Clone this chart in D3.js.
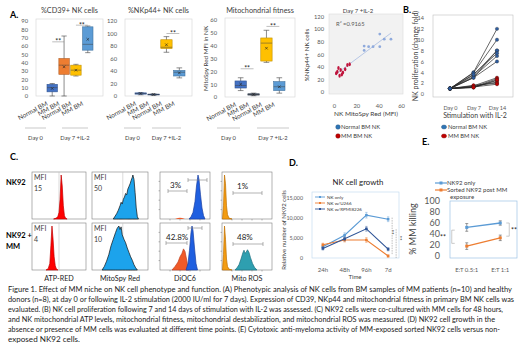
<!DOCTYPE html>
<html><head><meta charset="utf-8">
<script src="https://cdn.jsdelivr.net/npm/d3@7"></script>
<style>body{margin:0;background:#fff} svg{display:block} text{font-family:Lato,"Open Sans",sans-serif}</style>
</head><body><svg id="c" width="520" height="346"></svg>
<script>
// ---------------- DATA ----------------
const boxCategories = ["Normal BM","MM BM","Normal BM","MM BM"];
const dayGroups = ["Day 0","Day 7 +IL-2"];
// [min, q1, median, q3, max, mean]
const cd39Stats  = [[0,5,10,14,15,9],[0,26,37,45,72,35],[24,25,31,37,38,31],[52,55,62,83,84,68]];
const nkp44Stats = [[2,3,4,5,5.5,4],[1,2,2.5,3,3.5,2.5],[70,76,78,90,95,82],[29,32,38,41,45,37]];
const mitoStats  = [[5,7,9,12.5,15,10],[1,1.5,2,2.5,3,2],[27,28,42,46,52,38],[3,5,8,12,15,8]];
const cd39Sig  = [[0,1,65],[2,3,85]];
const nkp44Sig = [[2,3,100]];
const mitoSig  = [[0,1,22],[2,3,55]];

const scatterNormal = [[27,73],[27,66],[31,72],[35,72],[41,72],[41,92],[45,84],[51,84]];
const scatterMM = [[2,30],[3,32],[4,38],[5,26],[6,35],[7,28],[8,31],[10,36],[12,43],[14,44]];
const scatterR2 = "R\u00b2 =0.9165";

const prolifDays = ["Day 0","Day 7","Day 14"];
const prolifNormal = [[1,4,12],[1,3.9,10],[1,3.5,8],[1,3,8],[1,3.2,7],[1,3,6],[1,3.6,7.5]];
const prolifMM = [[1,1.5,3],[1,1.3,2.8],[1,1.2,2.5],[1,1.4,2.2],[1,1.6,2],[1,1.3,1.8],[1,1.2,2.6]];

// histograms: [channel (0-100), relative count (0-100)]
const atpCtrl   = [[40,0],[45,2],[48,6],[50,15],[52,45],[54,100],[56,75],[58,30],[60,8],[62,2],[65,0]];
const atpMM     = [[26,0],[30,3],[33,15],[35,55],[37,100],[39,70],[41,30],[43,10],[45,3],[48,0]];
const mitoCtrl  = [[38,0],[41,6],[44,12],[47,20],[50,30],[52,38],[54,34],[56,45],[58,50],[60,58],[62,55],[64,68],[66,74],[68,80],[70,88],[72,95],[73,100],[75,90],[77,60],[79,25],[81,5],[83,0]];
const mitoMM    = [[18,0],[22,8],[26,20],[30,35],[34,55],[38,70],[42,85],[45,95],[48,100],[50,92],[52,98],[54,80],[57,70],[60,62],[63,50],[66,40],[69,30],[72,22],[75,12],[78,5],[81,0]];
const dioCtrlLow  = [[30,0],[36,2],[40,3],[44,2],[50,0]];
const dioCtrlHigh = [[58,0],[62,5],[66,15],[70,40],[73,75],[76,100],[78,90],[81,55],[84,25],[87,8],[90,0]];
const dioMMLow  = [[24,0],[30,8],[36,18],[40,30],[44,38],[47,48],[50,42],[53,25],[56,5],[58,0]];
const dioMMHigh = [[52,0],[56,15],[59,45],[62,85],[64,100],[66,90],[69,50],[72,15],[75,0]];
const rosCtrl   = [[1,0],[3,30],[5,100],[7,80],[9,30],[11,10],[14,2],[20,0]];
const rosMM     = [[1,0],[3,35],[5,100],[7,70],[9,25],[11,8],[14,2],[20,0]];
const rosMMHigh = [[26,0],[30,5],[34,12],[38,25],[42,40],[44,45],[46,38],[48,40],[51,46],[54,40],[57,28],[61,15],[65,6],[70,0]];
const mfiCtrl = ["15","50"];
const mfiMM = ["4","10"];
const pctCtrl = ["3%","1%"];
const pctMM = ["42.8%","48%"];

const growthTimes = ["24h","48h","96h","7d"];
const growthNames = ["NK only","NK w/U266","NK w/RPMI8226"];
const growthNKonly = [2800,5700,10700,9700];
const growthU266   = [3300,4500,4500,500];
const growthRPMI   = [2400,4800,7300,2200];
const growthErr    = [[500,600,700,600],[400,500,600,300],[400,500,600,400]];

const killingRatios = ["E:T 0.5:1","E:T 1:1"];
const killingNames = ["NK92 only","Sorted NK92 post MM exposure"];
const killingNK92   = [52,60];
const killingSorted = [18,33];
const killingErr    = [[7,4],[6,5]];

const caption = [
 "Figure 1. Effect of MM niche on NK cell phenotype and function. (A) Phenotypic analysis of NK cells from BM samples of MM patients (n=10) and healthy",
 "donors (n=8), at day 0 or following IL-2 stimulation (2000 IU/ml for 7 days). Expression of CD39, NKp44 and mitochondrial fitness in primary BM NK cells was",
 "evaluated. (B) NK cell proliferation following 7 and 14 days of stimulation with IL-2 was assessed. (C) NK92 cells were co-cultured with MM cells for 48 hours,",
 "and NK mitochondrial ATP levels, mitochondrial fitness, mitochondrial destabilization, and mitochondrial ROS was measured. (D) NK92 cell growth in the",
 "absence or presence of MM cells was evaluated at different time points. (E) Cytotoxic anti-myeloma activity of MM-exposed sorted NK92 cells versus non-",
 "exposed NK92 cells."
];

// ---------------- DRAWING ----------------
const svg = d3.select("#c");
const GT = "#595959";
function txt(g,x,y,s,o={}){
  const t=g.append("text").attr("x",x).attr("y",y).text(s)
    .attr("font-size",o.size||6).attr("fill",o.fill||"#000").attr("text-anchor",o.anchor||"start");
  if(o.weight) t.attr("font-weight",o.weight);
  if(o.rotate!=null) t.attr("transform",`rotate(${o.rotate},${x},${y})`);
  if(o.len) t.attr("textLength",o.len).attr("lengthAdjust","spacingAndGlyphs");
  return t;
}
function styleAxis(a,size){a.select(".domain").remove();a.selectAll("line").remove();a.selectAll("text").attr("font-size",size).attr("fill",GT).attr("font-family","Lato,'Open Sans',sans-serif");}

// Panel letters
txt(svg,10,18,"A.",{size:9,weight:"bold"});
txt(svg,403,13,"B.",{size:9,weight:"bold"});
txt(svg,10,160,"C.",{size:9,weight:"bold"});
txt(svg,289,166,"D.",{size:9,weight:"bold"});
txt(svg,422,145,"E.",{size:9,weight:"bold"});

// ---- A: box plots ----
function boxChart(c){
  const g=svg.append("g");
  const y=d3.scaleLinear().domain([0,c.max]).range([c.y0,c.y1]);
  const x=d3.scaleBand().domain(d3.range(4)).range([c.bx0,c.bx1]).paddingInner(0.12);
  g.append("rect").attr("x",c.px0).attr("y",c.y1-2).attr("width",c.px1-c.px0).attr("height",c.y0-c.y1+2)
    .attr("fill","none").attr("stroke","#d9d9d9").attr("stroke-width",0.7);
  g.append("g").attr("transform",`translate(${c.px0},0)`)
    .call(d3.axisLeft(y).tickValues(d3.range(0,c.max+1e-6,c.step)).tickPadding(2)).call(a=>styleAxis(a,5.8));
  txt(g,(c.px0+c.px1)/2,13,c.title,{size:7.3,anchor:"middle",fill:"#404040"});
  if(c.ylabel) txt(g,c.px0-17,(c.y0+c.y1)/2,c.ylabel,{size:6.3,anchor:"middle",rotate:-90,fill:"#404040"});
  c.stats.forEach((s,i)=>{
    const cx=x(i)+x.bandwidth()/2, w=x.bandwidth();
    g.append("line").attr("x1",cx).attr("x2",cx).attr("y1",y(s[0])).attr("y2",y(s[4])).attr("stroke","#404040").attr("stroke-width",0.6);
    [s[0],s[4]].forEach(v=>g.append("line").attr("x1",cx-w*0.25).attr("x2",cx+w*0.25).attr("y1",y(v)).attr("y2",y(v)).attr("stroke","#404040").attr("stroke-width",0.6));
    g.append("rect").attr("x",x(i)).attr("y",y(s[3])).attr("width",w).attr("height",Math.max(0.8,y(s[1])-y(s[3])))
      .attr("fill",c.colors[i]).attr("stroke",d3.color(c.colors[i]).darker(0.8)).attr("stroke-width",0.6);
    g.append("line").attr("x1",x(i)).attr("x2",x(i)+w).attr("y1",y(s[2])).attr("y2",y(s[2])).attr("stroke","#404040").attr("stroke-width",0.5);
    const my=y(s[5]);
    g.append("path").attr("d",`M${cx-1.3},${my-1.3}L${cx+1.3},${my+1.3}M${cx-1.3},${my+1.3}L${cx+1.3},${my-1.3}`).attr("stroke","#222").attr("stroke-width",0.6);
    txt(g,cx-4,c.y0+9,boxCategories[i],{size:6.4,anchor:"end",rotate:-28,fill:"#404040"});
  });
  c.sig.forEach(([a,b,v])=>{
    const xa=x(a)+x.bandwidth()/2, xb=x(b)+x.bandwidth()/2;
    g.append("line").attr("x1",xa).attr("x2",xb).attr("y1",y(v)).attr("y2",y(v)).attr("stroke","#7f7f7f").attr("stroke-width",0.5);
    txt(g,(xa+xb)/2,y(v)+2.5,"**",{size:7,anchor:"middle",fill:"#222"});
  });
  c.groups.forEach((gr,i)=>{
    g.append("line").attr("x1",gr[0]).attr("x2",gr[1]).attr("y1",128).attr("y2",128).attr("stroke","#a6a6a6").attr("stroke-width",0.6);
    txt(g,(gr[0]+gr[1])/2,140,dayGroups[i],{size:5.8,anchor:"middle",fill:"#404040"});
  });
}
boxChart({px0:36,px1:103,y0:96,y1:21,bx0:47,bx1:93,max:90,step:10,title:"%CD39+ NK cells",stats:cd39Stats,
  colors:["#4472c4","#ed7d31","#ffc000","#5b9bd5"],sig:cd39Sig,groups:[[25,46],[62,88]]});
boxChart({px0:125,px1:192,y0:96,y1:21,bx0:135,bx1:185,max:120,step:20,title:"%NKp44+ NK cells",stats:nkp44Stats,
  colors:["#4472c4","#2f5597","#ffc000","#5b9bd5"],sig:nkp44Sig,groups:[[124,141],[152,181]]});
boxChart({px0:225,px1:295,y0:97,y1:20,bx0:235,bx1:285,max:60,step:10,title:"Mitochondrial fitness",stats:mitoStats,
  colors:["#4472c4","#44546a","#ffc000","#5b9bd5"],sig:mitoSig,groups:[[217,240],[257,289]],ylabel:"MitoSpy Red MFI in NK"});

// ---- A: scatter ----
(function(){
  const g=svg.append("g");
  const x=d3.scaleLinear().domain([0,60]).range([334,401]);
  const y=d3.scaleLinear().domain([0,120]).range([92,16.5]);
  g.append("rect").attr("x",329).attr("y",14).attr("width",74).attr("height",80).attr("fill","#f2f2f2").attr("stroke","#d9d9d9").attr("stroke-width",0.6);
  g.append("g").attr("transform","translate(331,0)").call(d3.axisLeft(y).tickValues(d3.range(0,121,20)).tickPadding(1)).call(a=>styleAxis(a,5.8));
  g.append("g").attr("transform","translate(0,96)").call(d3.axisBottom(x).tickValues([0,20,40,60]).tickPadding(2)).call(a=>styleAxis(a,5.8));
  txt(g,358,13,"Day 7 +IL-2",{size:6,anchor:"middle",fill:"#404040"});
  txt(g,309,55,"%NKp44+ NK cells",{size:6.3,anchor:"middle",rotate:-90,fill:"#404040"});
  txt(g,366,116,"NK MitoSpy Red (MFI)",{size:6.5,anchor:"middle",fill:"#404040"});
  const all=scatterNormal.concat(scatterMM);
  const mx=d3.mean(all,d=>d[0]), my=d3.mean(all,d=>d[1]);
  const b=d3.sum(all,d=>(d[0]-mx)*(d[1]-my))/d3.sum(all,d=>(d[0]-mx)**2), a=my-b*mx;
  g.append("line").attr("x1",x(1)).attr("x2",x(51)).attr("y1",y(a+b*1)).attr("y2",y(a+b*51)).attr("stroke","#8faadc").attr("stroke-width",0.6);
  txt(g,336,26,scatterR2,{size:5.8,fill:GT});
  g.selectAll(".n").data(scatterNormal).join("circle").attr("cx",d=>x(d[0])).attr("cy",d=>y(d[1])).attr("r",1.4).attr("fill","#8faadc");
  g.selectAll(".m").data(scatterMM).join("ellipse").attr("cx",d=>x(d[0])).attr("cy",d=>y(d[1])).attr("rx",1.2).attr("ry",2).attr("fill","#c0143c");
  g.append("circle").attr("cx",338).attr("cy",127).attr("r",2.3).attr("fill","#2e75b6").attr("stroke","#1f4e79").attr("stroke-width",0.4);
  g.append("circle").attr("cx",338).attr("cy",136).attr("r",2.3).attr("fill","#c00000").attr("stroke","#7f0000").attr("stroke-width",0.4);
  txt(g,341,129,"Normal BM NK",{size:5.8,fill:"#404040"});
  txt(g,341,138,"MM BM NK",{size:5.8,fill:"#404040"});
})();

// ---- B ----
(function(){
  const g=svg.append("g");
  const x=d3.scalePoint().domain(prolifDays).range([450,497]);
  const y=d3.scaleLinear().domain([0,14]).range([94,18]);
  g.append("rect").attr("x",433).attr("y",15).attr("width",80).attr("height",82).attr("fill","none").attr("stroke","#bfbfbf").attr("stroke-width",0.6);
  g.append("g").attr("transform","translate(431,0)").call(d3.axisLeft(y).tickValues(d3.range(0,15,2)).tickPadding(1)).call(a=>styleAxis(a,5.5));
  g.append("g").attr("transform","translate(0,98)").call(d3.axisBottom(x).tickPadding(2)).call(a=>styleAxis(a,5.5));
  txt(g,418,56,"NK proliferation (change fold)",{size:7,anchor:"middle",rotate:-90,fill:"#404040"});
  txt(g,475,118,"Stimulation with IL-2",{size:7,anchor:"middle",fill:"#404040"});
  const line=d3.line().x((d,i)=>x(prolifDays[i])).y(d=>y(d));
  [[prolifMM,"#c00000"],[prolifNormal,"#2e5d9f"]].forEach(([set,col])=>{
    set.forEach(s=>{
      g.append("path").attr("d",line(s)).attr("fill","none").attr("stroke","#262626").attr("stroke-width",0.7);
      s.forEach((v,i)=>g.append("circle").attr("cx",x(prolifDays[i])).attr("cy",y(v)).attr("r",1.7).attr("fill",col).attr("stroke","#222").attr("stroke-width",0.3));
    });
  });
  g.append("ellipse").attr("cx",444).attr("cy",127).attr("rx",2.6).attr("ry",2).attr("fill","#2e75b6").attr("stroke","#1f4e79").attr("stroke-width",0.4);
  g.append("ellipse").attr("cx",444).attr("cy",136).attr("rx",2.6).attr("ry",2).attr("fill","#c00000").attr("stroke","#7f0000").attr("stroke-width",0.4);
  txt(g,448,129,"Normal BM NK",{size:5.8,fill:"#404040"});
  txt(g,448,138,"MM BM NK",{size:5.8,fill:"#404040"});
})();

// ---- C: flow histograms ----
const rows=[[172,219],[223,270]];
const cols=[[32,86],[92,148],[160,210],[222,272]];
function hist(g,col,row,data,fill,stroke){
  const x=d3.scaleLinear().domain([0,100]).range(col);
  const y=d3.scaleLinear().domain([0,100]).range([row[1],row[0]+3]);
  const area=d3.area().x(d=>x(d[0])).y0(row[1]).y1(d=>y(d[1])).curve(d3.curveLinear);
  g.append("path").attr("d",area(data)).attr("fill",fill).attr("stroke",stroke||"none").attr("stroke-width",0.7);
}
(function(){
  const g=svg.append("g");
  txt(g,6,185,"NK92",{size:7.5,weight:"bold"});
  txt(g,6,238,"NK92 +",{size:7.5,weight:"bold"});
  txt(g,6,249,"MM",{size:7.5,weight:"bold"});
  rows.forEach((r,ri)=>cols.forEach(c=>{
    g.append("rect").attr("x",c[0]).attr("y",r[0]).attr("width",c[1]-c[0]).attr("height",r[1]-r[0]).attr("fill","#fff").attr("stroke","#7f7f7f").attr("stroke-width",0.6);
  }));
  const xa=d3.scaleLinear().domain([0,100]).range(cols[0]);
  const xm=d3.scaleLinear().domain([0,100]).range(cols[1]);
  rows.forEach(r=>{
    g.append("line").attr("x1",xa(50)).attr("x2",xa(50)).attr("y1",r[0]).attr("y2",r[1]).attr("stroke","#bfbfbf").attr("stroke-width",0.6);
    g.append("line").attr("x1",xm(55)).attr("x2",xm(55)).attr("y1",r[0]).attr("y2",r[1]).attr("stroke","#bfbfbf").attr("stroke-width",0.6);
  });
  hist(g,cols[0],rows[0],atpCtrl,"#ff0000","#c00000");
  hist(g,cols[0],rows[1],atpMM,"#ff0000","#c00000");
  hist(g,cols[1],rows[0],mitoCtrl,"#1ca3ec","#111");
  hist(g,cols[1],rows[1],mitoMM,"#1ca3ec","#111");
  hist(g,cols[2],rows[0],dioCtrlLow,"#f05a28");
  hist(g,cols[2],rows[0],dioCtrlHigh,"#1f5fe0","#1a3fa0");
  hist(g,cols[2],rows[1],dioMMLow,"#f05a28","#c04020");
  hist(g,cols[2],rows[1],dioMMHigh,"#1f5fe0","#1a3fa0");
  hist(g,cols[3],rows[0],rosCtrl,"#f39c12","#c07000");
  hist(g,cols[3],rows[1],rosMMHigh,"#2e9fb0","#1e7080");
  hist(g,cols[3],rows[1],rosMM,"#f39c12","#c07000");
  [mfiCtrl,mfiMM].forEach((m,ri)=>{
    [0,1].forEach(ci=>{
      txt(g,cols[ci][0]+2,rows[ri][0]+8,"MFI",{size:7,fill:"#404040"});
      txt(g,cols[ci][0]+2,rows[ri][0]+19,m[ci],{size:7,fill:"#404040"});
    });
  });
  const xd=d3.scaleLinear().domain([0,100]).range(cols[2]);
  const xr=d3.scaleLinear().domain([0,100]).range(cols[3]);
  function gate(x1,x2,yv){
    g.append("line").attr("x1",x1).attr("x2",x2).attr("y1",yv).attr("y2",yv).attr("stroke","#7f7f7f").attr("stroke-width",0.6);
    [x1,x2].forEach(xx=>g.append("line").attr("x1",xx).attr("x2",xx).attr("y1",yv-2).attr("y2",yv+2).attr("stroke","#7f7f7f").attr("stroke-width",0.6));
  }
  gate(xd(16),xd(54),191); gate(xd(56),xd(94),180);
  gate(xd(12),xd(54),243); gate(xd(56),xd(84),228);
  gate(xr(22),xr(80),193); gate(xr(22),xr(82),244);
  txt(g,xd(20),188,pctCtrl[0],{size:8,fill:"#222"});
  txt(g,xr(30),189,pctCtrl[1],{size:8,fill:"#222"});
  txt(g,xd(12),240,pctMM[0],{size:8,fill:"#222"});
  txt(g,xr(30),240,pctMM[1],{size:8,fill:"#222"});
  [2,3].forEach(ci=>rows.forEach(r=>{
    for(let k=1;k<5;k++){
      const yy=r[1]-(r[1]-r[0])*k/5;
      g.append("line").attr("x1",cols[ci][0]-1.5).attr("x2",cols[ci][0]).attr("y1",yy).attr("y2",yy).attr("stroke","#555").attr("stroke-width",0.4);
      const xx=cols[ci][0]+(cols[ci][1]-cols[ci][0])*k/5;
      g.append("line").attr("x1",xx).attr("x2",xx).attr("y1",r[1]).attr("y2",r[1]+1.5).attr("stroke","#555").attr("stroke-width",0.4);
    }
  }));
  ["ATP-RED","MitoSpy Red","DiOC6","Mito ROS"].forEach((l,i)=>txt(g,(cols[i][0]+cols[i][1])/2,281,l,{size:7.2,anchor:"middle",fill:"#222"}));
})();

// ---- D ----
(function(){
  const g=svg.append("g");
  const x=d3.scaleBand().domain(growthTimes).range([312,399]);
  const y=d3.scaleLinear().domain([0,15000]).range([258,198]);
  g.append("rect").attr("x",312).attr("y",192).attr("width",87).attr("height",66).attr("fill","none").attr("stroke","#bdd7ee").attr("stroke-width",0.6);
  g.append("g").attr("transform","translate(310,0)").call(d3.axisLeft(y).tickValues([0,5000,10000,15000]).tickPadding(1)).call(a=>styleAxis(a,5.3));
  g.append("g").attr("transform","translate(0,260)").call(d3.axisBottom(x).tickPadding(2)).call(a=>styleAxis(a,6));
  txt(g,358,185,"NK cell growth",{size:7.8,anchor:"middle",fill:"#222"});
  txt(g,355,279,"Time",{size:6,anchor:"middle",fill:"#404040"});
  txt(g,286,230,"Relative number of NK92 cells",{size:6,anchor:"middle",rotate:-90,fill:"#404040"});
  const series=[growthNKonly,growthU266,growthRPMI], colors=["#5b9bd5","#ed7d31","#2f5597"];
  const cx=t=>x(t)+x.bandwidth()/2;
  series.forEach((s,si)=>{
    g.append("path").attr("d",d3.line().x((d,i)=>cx(growthTimes[i])).y(d=>y(d))(s)).attr("fill","none").attr("stroke",colors[si]).attr("stroke-width",1.1);
    s.forEach((v,i)=>{
      const e=growthErr[si][i], X=cx(growthTimes[i]);
      g.append("path").attr("d",`M${X},${y(v-e)}V${y(v+e)}M${X-1.2},${y(v-e)}H${X+1.2}M${X-1.2},${y(v+e)}H${X+1.2}`).attr("stroke",colors[si]).attr("stroke-width",0.5).attr("opacity",0.8);
      g.append("rect").attr("x",X-1.3).attr("y",y(v)-1.3).attr("width",2.6).attr("height",2.6).attr("fill",colors[si]);
    });
  });
  growthNames.forEach((n,i)=>{
    const yy=197+i*6;
    g.append("line").attr("x1",315).attr("x2",325).attr("y1",yy).attr("y2",yy).attr("stroke",colors[i]).attr("stroke-width",0.9);
    g.append("rect").attr("x",319).attr("y",yy-1).attr("width",2).attr("height",2).attr("fill",colors[i]);
    txt(g,327,yy+1.6,n,{size:4.6,fill:"#404040"});
  });
  const X7=cx("7d");
  g.append("line").attr("x1",X7+4).attr("x2",X7+4).attr("y1",y(growthNKonly[3]+400)).attr("y2",y(growthU266[3]+400)).attr("stroke","#7f7f7f").attr("stroke-width",0.5).attr("stroke-dasharray","1.5,1");
  g.append("line").attr("x1",X7+8).attr("x2",X7+8).attr("y1",y(growthRPMI[3]+5000)).attr("y2",y(0)).attr("stroke","#7f7f7f").attr("stroke-width",0.5).attr("stroke-dasharray","1.5,1");
  txt(g,X7+2,232,"**",{size:6,anchor:"middle",rotate:90,fill:"#222"});
  txt(g,X7+10,238,"**",{size:6,anchor:"middle",rotate:90,fill:"#222"});
})();

// ---- E ----
(function(){
  const g=svg.append("g");
  const x=d3.scaleBand().domain(killingRatios).range([450,517]);
  const y=d3.scaleLinear().domain([0,100]).range([256,201]);
  g.append("rect").attr("x",450).attr("y",201).attr("width",67).attr("height",57).attr("fill","none").attr("stroke","#9dc3e6").attr("stroke-width",0.7);
  g.append("g").attr("transform","translate(447,0)").call(d3.axisLeft(y).tickValues(d3.range(0,101,20)).tickPadding(1)).call(a=>styleAxis(a,9));
  g.append("g").attr("transform","translate(0,260)").call(d3.axisBottom(x).tickPadding(2)).call(a=>styleAxis(a,6));
  txt(g,416,229,"% MM killing",{size:9,anchor:"middle",rotate:-90,fill:"#404040"});
  const cx=t=>x(t)+x.bandwidth()/2;
  const series=[killingNK92,killingSorted], colors=["#5b9bd5","#ed7d31"];
  series.forEach((s,si)=>{
    g.append("path").attr("d",d3.line().x((d,i)=>cx(killingRatios[i])).y(d=>y(d))(s)).attr("fill","none").attr("stroke",colors[si]).attr("stroke-width",1.4);
    s.forEach((v,i)=>{
      const e=killingErr[si][i], X=cx(killingRatios[i]);
      g.append("path").attr("d",`M${X},${y(v-e)}V${y(v+e)}M${X-1.5},${y(v-e)}H${X+1.5}M${X-1.5},${y(v+e)}H${X+1.5}`).attr("stroke","#595959").attr("stroke-width",0.6);
      g.append("rect").attr("x",X-1.5).attr("y",y(v)-1.5).attr("width",3).attr("height",3).attr("fill",colors[si]);
    });
  });
  [[183,killingNames[0]],[190,"Sorted NK92 post MM"]].forEach(([yy,n],i)=>{
    g.append("line").attr("x1",435).attr("x2",447).attr("y1",yy).attr("y2",yy).attr("stroke",colors[i]).attr("stroke-width",1.2);
    g.append("rect").attr("x",439.5).attr("y",yy-1.5).attr("width",3).attr("height",3).attr("fill",colors[i]);
    txt(g,447,yy+2.2,n,{size:6,fill:"#404040"});
  });
  txt(g,450,198.5,"exposure",{size:6,fill:"#404040"});
  const L=cx(killingRatios[0]), R=cx(killingRatios[1]);
  g.append("path").attr("d",`M${L-12},${y(killingNK92[0]-5)}H${L-15}V${y(killingSorted[0]+5)}H${L-12}`).attr("fill","none").attr("stroke","#a6a6a6").attr("stroke-width",0.6);
  txt(g,443,240,"**",{size:7,anchor:"middle",fill:"#222"});
  g.append("path").attr("d",`M${R+6},${y(killingNK92[1])}H${R+9}V${y(killingSorted[1]+3)}H${R+6}`).attr("fill","none").attr("stroke","#a6a6a6").attr("stroke-width",0.6);
  txt(g,514,233,"**",{size:7,anchor:"middle",fill:"#222"});
})();

// ---- caption ----
const capLens=[504,506,495,487,492,72];
caption.forEach((l,i)=>txt(svg,8,292+i*10,l,{size:6.6,fill:"#222",len:capLens[i]}));
</script></body></html>
